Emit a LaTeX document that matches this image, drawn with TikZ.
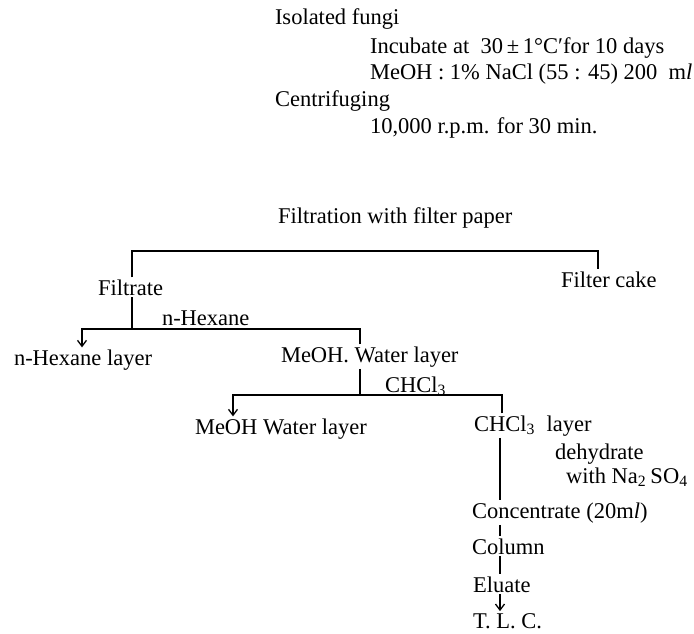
\documentclass[tikz,border=0pt]{standalone}
\usepackage{fontspec}
\setmainfont{Liberation Serif}
\usetikzlibrary{arrows.meta}
\tikzset{
  lbl/.style={anchor=base west, inner sep=0pt, outer sep=1pt, font=\fontsize{11.25}{13}\selectfont},
  conn/.style={line width=0.65pt},
  arr/.style={conn, -{Straight Barb[length=3pt,width=4.5pt,line width=0.65pt]}}
}
\begin{document}
\begin{tikzpicture}[x=0.5pt,y=-0.5pt]
\useasboundingbox (0,0) rectangle (694,633);
% header texts
\node[lbl] (fungi) at (273,24) {Isolated fungi};
\node[lbl] (incub) at (368,53) {Incubate at \ 30\,±\,1°C′for 10 days};
\node[lbl] (meoh) at (368,79) {MeOH : 1\% NaCl (55 : 45) 200 \ m\textit{l}};
\node[lbl] (centr) at (273,106) {Centrifuging};
\node[lbl] (rpm) at (368,133) {10,000 r.p.m. for 30 min.};
\node[lbl] (filtr) at (276,223) {Filtration with filter paper};
% tree nodes
\node[lbl] (filtrate) at (96,295) {Filtrate};
\node[lbl] (cake) at (559,287) {Filter cake};
\node[lbl] (hex) at (160,325) {n-Hexane};
\node[lbl] (hexl) at (12,365) {n-Hexane layer};
\node[lbl] (mwl) at (279,362) {MeOH. Water layer};
\node[lbl] (chcl) at (383,392) {CHCl\textsubscript{3}};
\node[lbl] (mwl2) at (193,434) {MeOH Water layer};
\node[lbl] (chl) at (472,431) {CHCl\textsubscript{3} \ layer};
\node[lbl] (dehyd) at (553,459) {dehydrate};
\node[lbl] (withna) at (564,483) {with Na\textsubscript{2}\,SO\textsubscript{4}};
\node[lbl] (conc) at (470,518) {Concentrate (20m\textit{l})};
\node[lbl] (col) at (470,554) {Column};
\node[lbl] (elu) at (471,592) {Eluate};
\node[lbl] (tlc) at (471,628) {T. L. C.};
% junction coordinates
\coordinate (tl) at (132,251);
\coordinate (tr) at (598,251);
\coordinate (hl) at (82,329);
\coordinate (hr) at (360,329);
\coordinate (cl) at (233,395);
\coordinate (cm) at (360,395);
\coordinate (cr) at (502,395);
\coordinate (vx) at (500,0);
% connectors
\draw[conn] (tl |- filtrate.north) -- (tl) -- (tr) -- (tr |- cake.north);
\draw[conn] (tl |- filtrate.south) -- (tl |- hl);
\draw[arr] (hr |- mwl.north) -- (hr) -- (hl) -- (hl |- hexl.north);
\draw[conn] (cm |- mwl.south) -- (cm);
\draw[arr] (cr |- chl.north) -- (cr) -- (cl) -- (cl |- mwl2.north);
\draw[conn] (vx |- chl.south) -- (vx |- conc.north);
\draw[conn] (vx |- conc.south) -- (vx |- col.north);
\draw[conn] (vx |- col.south) -- (vx |- elu.north);
\draw[arr] (vx |- elu.south) -- (vx |- tlc.north);
\end{tikzpicture}
\end{document}
